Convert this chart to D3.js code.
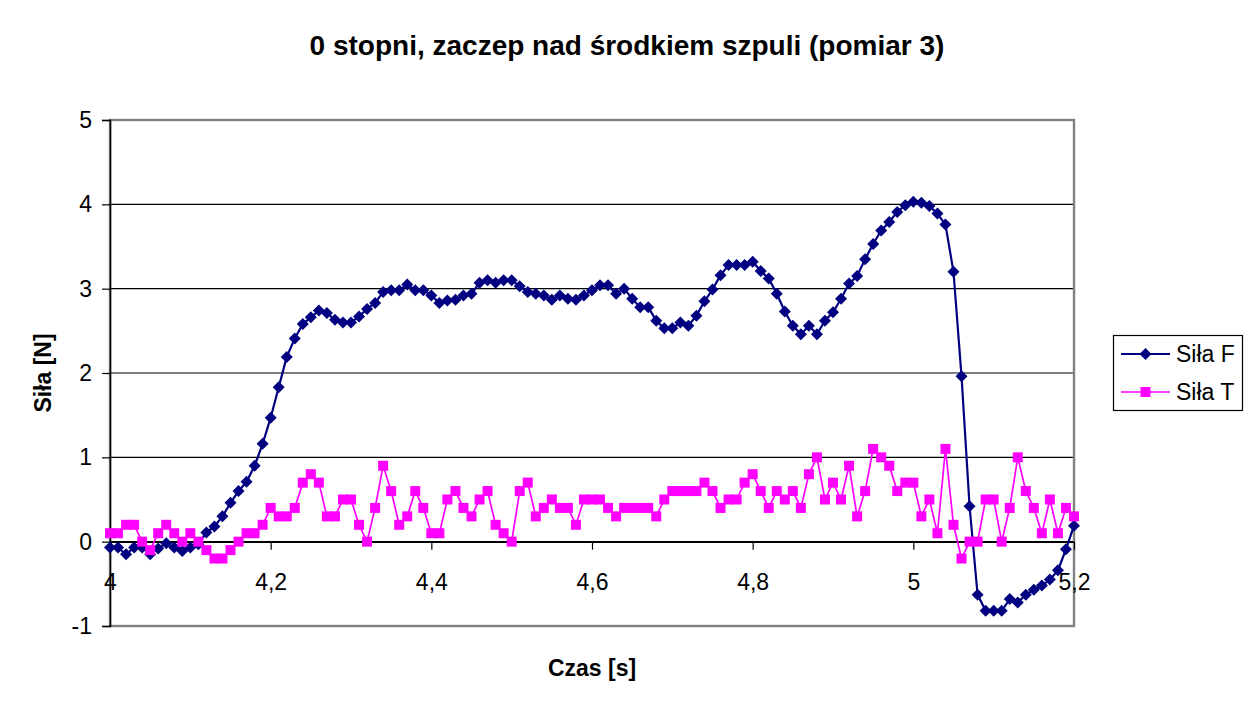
<!DOCTYPE html>
<html>
<head>
<meta charset="utf-8">
<script src="https://cdn.jsdelivr.net/npm/d3@7"></script>
<style>
  body { margin: 0; background: #fff; }
  text { font-family: "Liberation Sans", Arial, sans-serif; }
</style>
</head>
<body>
<svg id="chart"></svg>
<script>
// czas pomiaru [s], co 0,01 s
const czas = d3.range(121).map(i => +(4 + i * 0.01).toFixed(2));

// Siła F [N]
const silaF = [
  -0.07, -0.07, -0.15, -0.07, -0.07, -0.15, -0.08, -0.02, -0.07, -0.11,
  -0.07, -0.03, 0.11, 0.18, 0.30, 0.46, 0.60, 0.71, 0.90, 1.16,
  1.47, 1.83, 2.19, 2.41, 2.58, 2.66, 2.74, 2.71, 2.63, 2.60,
  2.60, 2.67, 2.76, 2.83, 2.96, 2.98, 2.98, 3.05, 2.98, 2.98,
  2.92, 2.83, 2.86, 2.87, 2.92, 2.94, 3.07, 3.10, 3.07, 3.10,
  3.10, 3.03, 2.96, 2.94, 2.92, 2.87, 2.92, 2.88, 2.87, 2.92,
  2.98, 3.04, 3.04, 2.94, 3.00, 2.88, 2.78, 2.78, 2.62, 2.53,
  2.53, 2.60, 2.56, 2.68, 2.85, 2.99, 3.16, 3.28, 3.28, 3.28,
  3.32, 3.21, 3.12, 2.94, 2.73, 2.56, 2.46, 2.56, 2.46, 2.62,
  2.72, 2.88, 3.06, 3.15, 3.35, 3.53, 3.69, 3.79, 3.91, 3.99,
  4.03, 4.02, 3.98, 3.89, 3.76, 3.20, 1.96, 0.42, -0.63, -0.82,
  -0.82, -0.82, -0.68, -0.72, -0.63, -0.57, -0.52, -0.45, -0.34, -0.09,
  0.19
];

// Siła T [N]
const silaT = [
  0.1, 0.1, 0.2, 0.2, 0.0, -0.1, 0.1, 0.2, 0.1, 0.0,
  0.1, 0.0, -0.1, -0.2, -0.2, -0.1, 0.0, 0.1, 0.1, 0.2,
  0.4, 0.3, 0.3, 0.4, 0.7, 0.8, 0.7, 0.3, 0.3, 0.5,
  0.5, 0.2, 0.0, 0.4, 0.9, 0.6, 0.2, 0.3, 0.6, 0.4,
  0.1, 0.1, 0.5, 0.6, 0.4, 0.3, 0.5, 0.6, 0.2, 0.1,
  0.0, 0.6, 0.7, 0.3, 0.4, 0.5, 0.4, 0.4, 0.2, 0.5,
  0.5, 0.5, 0.4, 0.3, 0.4, 0.4, 0.4, 0.4, 0.3, 0.5,
  0.6, 0.6, 0.6, 0.6, 0.7, 0.6, 0.4, 0.5, 0.5, 0.7,
  0.8, 0.6, 0.4, 0.6, 0.5, 0.6, 0.4, 0.8, 1.0, 0.5,
  0.7, 0.5, 0.9, 0.3, 0.6, 1.1, 1.0, 0.9, 0.6, 0.7,
  0.7, 0.3, 0.5, 0.1, 1.1, 0.2, -0.2, 0.0, 0.0, 0.5,
  0.5, 0.0, 0.4, 1.0, 0.6, 0.4, 0.1, 0.5, 0.1, 0.4,
  0.3
];

const xTicks = [4, 4.2, 4.4, 4.6, 4.8, 5, 5.2];
const yTicks = [-1, 0, 1, 2, 3, 4, 5];

const width = 1249, height = 705;
const plot = {left: 110, right: 1074, top: 120, bottom: 626};

const svg = d3.select("#chart")
  .attr("width", width)
  .attr("height", height);

const x = d3.scaleLinear().domain([4, 5.2]).range([plot.left, plot.right]);
const y = d3.scaleLinear().domain([-1, 5]).range([plot.bottom, plot.top]);

const fmt = d => String(d).replace(".", ",");

// linie siatki
svg.append("g")
  .selectAll("line")
  .data(yTicks.filter(d => d > -1 && d < 5))
  .join("line")
  .attr("x1", plot.left).attr("x2", plot.right)
  .attr("y1", d => y(d)).attr("y2", d => y(d))
  .attr("stroke", "#000")
  .attr("stroke-width", 1.2);

// ramka obszaru wykresu
svg.append("rect")
  .attr("x", plot.left)
  .attr("y", plot.top)
  .attr("width", plot.right - plot.left)
  .attr("height", plot.bottom - plot.top)
  .attr("fill", "none")
  .attr("stroke", "#808080")
  .attr("stroke-width", 2.4);

// oś Y
const yAxis = svg.append("g")
  .attr("transform", "translate(" + plot.left + ",0)")
  .call(d3.axisLeft(y).tickValues(yTicks).tickFormat(d => String(d)).tickSize(8).tickPadding(10));
yAxis.select(".domain").attr("stroke", "#000").attr("stroke-width", 1.5);
yAxis.selectAll(".tick line").attr("stroke", "#000").attr("stroke-width", 1.2);
yAxis.selectAll("text").attr("font-size", 23).attr("fill", "#000")
  .style("font-family", "'Liberation Sans', Arial, sans-serif");

// oś X (przecina w 0)
const xAxis = svg.append("g")
  .attr("transform", "translate(0," + y(0) + ")")
  .call(d3.axisBottom(x).tickValues(xTicks).tickFormat(fmt).tickSizeInner(8).tickSizeOuter(0).tickPadding(24));
xAxis.select(".domain").attr("stroke", "#000").attr("stroke-width", 1.5);
xAxis.selectAll(".tick line").attr("stroke", "#000").attr("stroke-width", 1.2);
xAxis.selectAll("text").attr("font-size", 23).attr("fill", "#000")
  .style("font-family", "'Liberation Sans', Arial, sans-serif");

// serie
const daneF = czas.map((t, i) => ({t: t, v: silaF[i]}));
const daneT = czas.map((t, i) => ({t: t, v: silaT[i]}));

const line = d3.line()
  .x(d => x(d.t))
  .y(d => y(d.v));

const diamond = (cx, cy, r) =>
  "M" + cx + "," + (cy - r) + "L" + (cx + r) + "," + cy + "L" + cx + "," + (cy + r) + "L" + (cx - r) + "," + cy + "Z";

svg.append("path")
  .datum(daneF)
  .attr("fill", "none")
  .attr("stroke", "#000080")
  .attr("stroke-width", 2.2)
  .attr("d", line);

svg.append("g")
  .selectAll("path")
  .data(daneF)
  .join("path")
  .attr("d", d => diamond(x(d.t), y(d.v), 6))
  .attr("fill", "#000080");

svg.append("path")
  .datum(daneT)
  .attr("fill", "none")
  .attr("stroke", "#ff00ff")
  .attr("stroke-width", 1.7)
  .attr("d", line);

svg.append("g")
  .selectAll("rect")
  .data(daneT)
  .join("rect")
  .attr("x", d => x(d.t) - 5)
  .attr("y", d => y(d.v) - 5)
  .attr("width", 10)
  .attr("height", 10)
  .attr("fill", "#ff00ff");

// tytuły
svg.append("text")
  .attr("x", 627)
  .attr("y", 55)
  .attr("text-anchor", "middle")
  .attr("font-size", 28)
  .attr("font-weight", "bold")
  .text("0 stopni, zaczep nad środkiem szpuli (pomiar 3)");

svg.append("text")
  .attr("x", 592)
  .attr("y", 676)
  .attr("text-anchor", "middle")
  .attr("font-size", 23)
  .attr("font-weight", "bold")
  .text("Czas [s]");

svg.append("text")
  .attr("transform", "translate(51,373) rotate(-90)")
  .attr("text-anchor", "middle")
  .attr("font-size", 23)
  .attr("font-weight", "bold")
  .text("Siła [N]");

// legenda
const legend = svg.append("g");
legend.append("rect")
  .attr("x", 1113.5).attr("y", 335.5)
  .attr("width", 129).attr("height", 75)
  .attr("fill", "#fff")
  .attr("stroke", "#000")
  .attr("stroke-width", 1.2);

const items = [
  {name: "Siła F", color: "#000080", shape: "diamond", y: 354},
  {name: "Siła T", color: "#ff00ff", shape: "square", y: 392}
];

items.forEach(it => {
  legend.append("line")
    .attr("x1", 1121).attr("x2", 1170)
    .attr("y1", it.y).attr("y2", it.y)
    .attr("stroke", it.color)
    .attr("stroke-width", it.shape === "diamond" ? 2.2 : 1.7);
  if (it.shape === "diamond") {
    legend.append("path")
      .attr("d", diamond(1145.5, it.y, 6))
      .attr("fill", it.color);
  } else {
    legend.append("rect")
      .attr("x", 1140.5).attr("y", it.y - 5)
      .attr("width", 10).attr("height", 10)
      .attr("fill", it.color);
  }
  legend.append("text")
    .attr("x", 1176)
    .attr("y", it.y + 8)
    .attr("font-size", 23)
    .text(it.name);
});
</script>
</body>
</html>
